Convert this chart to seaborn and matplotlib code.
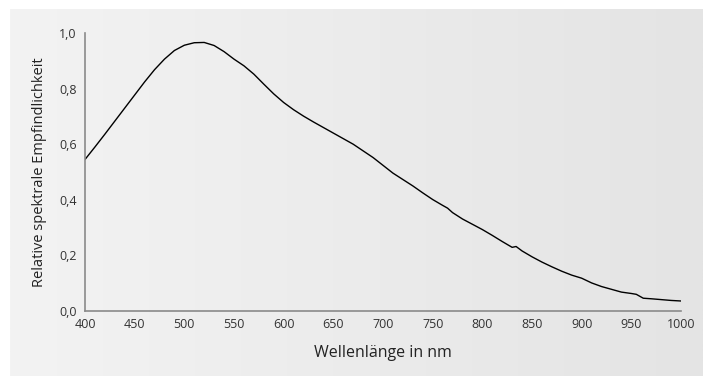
import numpy as np
import pandas as pd
import seaborn as sns
import matplotlib.pyplot as plt

# Spectral sensitivity curve
wavelength = [400, 410, 420, 430, 440, 450, 460, 470, 480, 490,
              500, 510, 520, 530, 540, 550, 560, 570, 580, 590,
              600, 610, 620, 630, 640, 650, 660, 670, 680, 690,
              700, 710, 720, 730, 740, 750, 760, 765, 770, 780,
              790, 800, 810, 820, 830, 834, 840, 850, 860, 870,
              880, 890, 900, 910, 920, 930, 940, 950, 955, 962,
              970, 980, 990, 1000]
sensitivity = [0.545, 0.590, 0.636, 0.683, 0.730, 0.777, 0.824, 0.868, 0.906, 0.937,
               0.956, 0.965, 0.966, 0.955, 0.933, 0.906, 0.882, 0.852, 0.816, 0.781,
               0.750, 0.724, 0.701, 0.680, 0.660, 0.640, 0.620, 0.600, 0.576, 0.552,
               0.524, 0.496, 0.473, 0.450, 0.425, 0.401, 0.380, 0.370, 0.354, 0.331,
               0.312, 0.293, 0.272, 0.250, 0.229, 0.232, 0.216, 0.195, 0.176, 0.159,
               0.143, 0.129, 0.118, 0.101, 0.088, 0.078, 0.068, 0.063, 0.060, 0.046,
               0.044, 0.041, 0.038, 0.036]

xticks = [400, 450, 500, 550, 600, 650, 700, 750, 800, 850, 900, 950, 1000]
yticks = [0.0, 0.2, 0.4, 0.6, 0.8, 1.0]
ylabels = ["0,0", "0,2", "0,4", "0,6", "0,8", "1,0"]

df = pd.DataFrame({"nm": wavelength, "rel": sensitivity})

sns.set_style("white")
plt.rcParams["font.family"] = ["Open Sans", "DejaVu Sans"]

fig = plt.figure(figsize=(7.03, 3.76), dpi=100)

# gray gradient panel behind the chart
bg = fig.add_axes([10 / 703, 0, 1 - 10 / 703, 1 - 9 / 376], zorder=-1)
grad = np.linspace(0, 1, 256).reshape(1, -1)
c0 = np.array([243, 243, 243]) / 255
c1 = np.array([228, 228, 228]) / 255
img = c0 + (c1 - c0) * grad[..., None]
bg.imshow(img, aspect="auto", extent=[0, 1, 0, 1])
bg.axis("off")

ax = fig.add_axes([85 / 703, 1 - 311 / 376, (681 - 85) / 703, (311 - 33) / 376])
ax.patch.set_alpha(0)
sns.lineplot(data=df, x="nm", y="rel", color="black", linewidth=1.0, ax=ax)

ax.set_xlim(400, 1000)
ax.set_ylim(0, 1.0)
ax.set_xticks(xticks)
ax.set_xticklabels([str(t) for t in xticks])
ax.set_yticks(yticks)
ax.set_yticklabels(ylabels)

for s in ["top", "right"]:
    ax.spines[s].set_visible(False)
for s in ["left", "bottom"]:
    ax.spines[s].set_color("#8a8a8a")
    ax.spines[s].set_linewidth(1.2)

ax.tick_params(axis="y", direction="out", length=4, width=1, color="#8a8a8a",
               labelsize=9, labelcolor="#333333", pad=2)
ax.tick_params(axis="x", direction="in", length=3, width=1, color="#8a8a8a",
               labelsize=9, labelcolor="#333333", pad=5)

ax.set_xlabel("Wellenlänge in nm", fontsize=11.5, color="#222222", labelpad=10)
ax.set_ylabel("Relative spektrale Empfindlichkeit", fontsize=10.5, color="#222222", labelpad=9)

fig.savefig("out.png", dpi=100)
